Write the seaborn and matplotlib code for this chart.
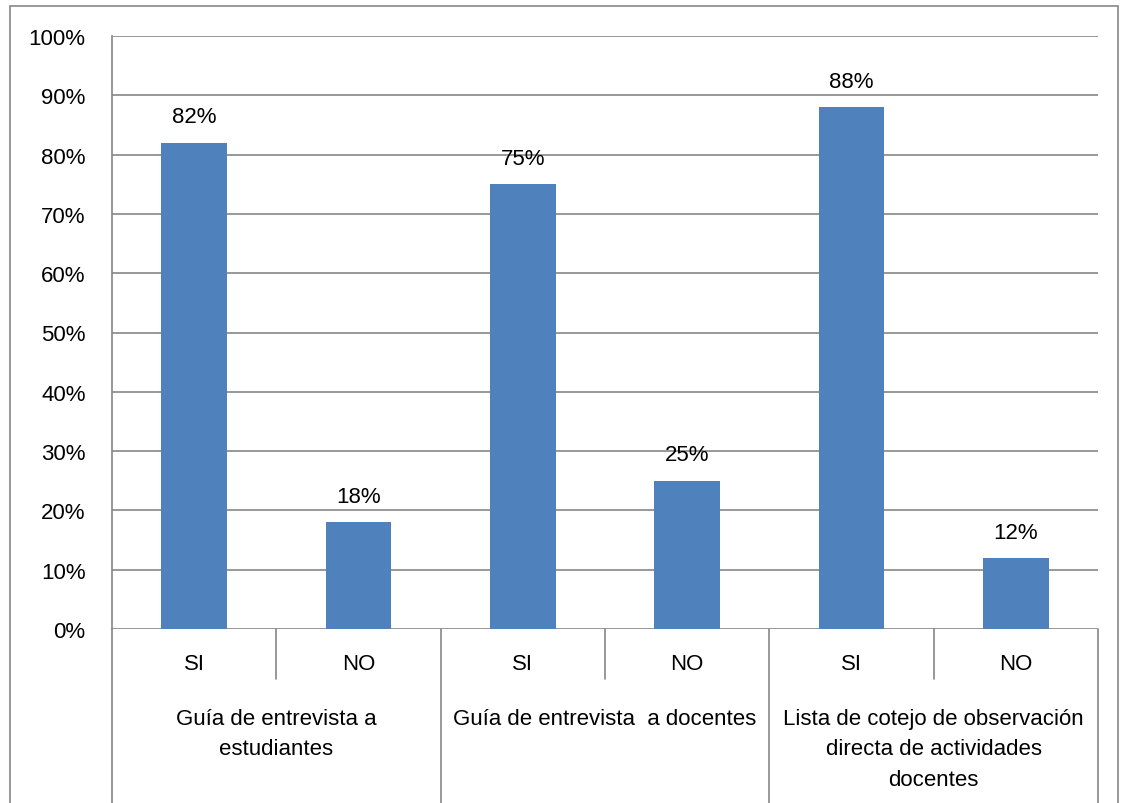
import matplotlib
matplotlib.use("Agg")
import matplotlib.pyplot as plt
import matplotlib.transforms as mtransforms
from matplotlib.patches import Rectangle
import seaborn as sns

# data
groups = ["Guía de entrevista a\nestudiantes",
          "Guía de entrevista  a docentes",
          "Lista de cotejo de observación\ndirecta de actividades\ndocentes"]
answers = ["SI", "NO", "SI", "NO", "SI", "NO"]
values = [0.82, 0.18, 0.75, 0.25, 0.88, 0.12]
keys = ["g1_SI", "g1_NO", "g2_SI", "g2_NO", "g3_SI", "g3_NO"]
yticks = [0, 0.1, 0.2, 0.3, 0.4, 0.5, 0.6, 0.7, 0.8, 0.9, 1.0]

sns.set_style("white")
plt.rcParams["font.family"] = ["Liberation Sans", "DejaVu Sans"]
plt.rcParams["text.color"] = "black"
grey = "#868686"
fs = 16

fig = plt.figure(figsize=(11.21, 8.04), dpi=100)
ax = fig.add_axes([112 / 1121, 1 - 630 / 804, (1098 - 112) / 1121, (630 - 37) / 804])

sns.barplot(x=keys, y=values, order=keys, color="#4F81BD", width=0.4,
            saturation=1, linewidth=0, ax=ax, zorder=3)

ax.set_xlim(-0.5, 5.5)
ax.set_ylim(0, 1.0)
ax.set_yticks(yticks)
ax.set_yticklabels([f"{int(round(t * 100))}%" for t in yticks], fontsize=fs, color="black")
ax.tick_params(axis="y", length=8, color=grey, pad=11, width=1.2)
ax.set_xticks([])
ax.set_xlabel("")
ax.set_ylabel("")
for y in yticks:
    ax.axhline(y, color=grey, lw=1.2, zorder=1)
for side in ["top", "right", "bottom"]:
    ax.spines[side].set_visible(False)
ax.spines["left"].set_color(grey)
ax.spines["left"].set_linewidth(1.2)

# value labels
for i, v in enumerate(values):
    ax.annotate(f"{int(round(v * 100))}%", (i, v), xytext=(0, 11),
                textcoords="offset points", ha="center", va="bottom", fontsize=fs,
                color="black")

# category axis below
trans = mtransforms.blended_transform_factory(ax.transData, ax.transAxes)
for b in [-0.5, 1.5, 3.5, 5.5]:
    ax.plot([b, b], [0, -0.30], color=grey, lw=1.2, transform=trans, clip_on=False)
for b in [0.5, 2.5, 4.5]:
    ax.plot([b, b], [0, -0.085], color=grey, lw=1.2, transform=trans, clip_on=False)
for i, a in enumerate(answers):
    ax.text(i, -0.059, a, transform=trans, ha="center", va="center", fontsize=fs,
            color="black")
for g, name in enumerate(groups):
    ax.text(2 * g + 0.5, -0.133, name, transform=trans, ha="center", va="top",
            fontsize=fs, linespacing=1.6, color="black")

# outer frame
fig.add_artist(Rectangle((10 / 1121, -0.01), (1118 - 10) / 1121, 1 - 7 / 804 + 0.01,
                         transform=fig.transFigure, fill=False, edgecolor=grey, lw=1.2))

fig.savefig("out.png", dpi=100)
